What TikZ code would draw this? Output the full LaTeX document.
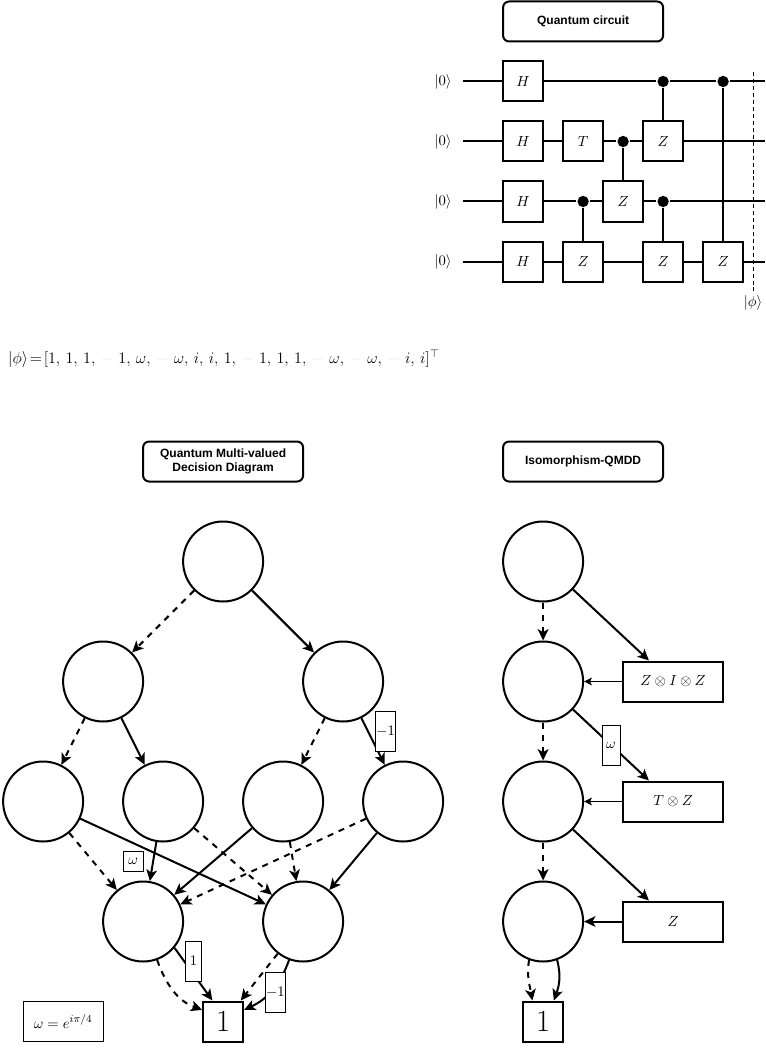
\documentclass[tikz,border=0pt]{standalone}
\usepackage{amsmath,amssymb}
\usepackage{fontspec}
\usepackage{xcolor}
\usepackage{tikz}
\usetikzlibrary{automata,arrows.meta,calc}
\newfontfamily\titlefont{Liberation Sans}
\newcommand{\mn}{\textcolor{black!10}{-}\mskip6mu}
\newcommand{\sep}{,\mskip3mu}

\begin{document}
\begin{tikzpicture}[x=0.75pt,y=-0.75pt,>={Stealth[length=8.5pt,width=8pt,inset=2.2pt]},
			node distance=90pt,line width=1.5pt,font=\fontsize{10.95}{13}\selectfont]
			\tikzstyle{every state}=[fill=white,draw=black,line width=1.5pt,text=black,minimum size=60pt,inner sep=0pt]
			\tikzstyle{titlebox}=[draw,rounded corners=4.5pt,fill=white,minimum width=120pt,minimum height=30pt,align=center,inner sep=0pt,font=\titlefont\bfseries\fontsize{9}{10.5}\selectfont]
			\tikzstyle{gate}=[draw,fill=white,minimum size=30pt,inner sep=0pt]
			\tikzstyle{ctrl}=[circle,fill=black,minimum size=8.5pt,inner sep=0pt]
			\tikzstyle{opbox}=[draw,fill=white,minimum width=75pt,minimum height=30pt,inner sep=0pt]
			\tikzstyle{leaf}=[draw,fill=white,minimum size=30pt,inner sep=0pt,font=\fontsize{23}{23}\selectfont]
			\tikzstyle{lbl}=[draw,fill=white,line width=0.75pt,inner sep=0pt]
			\tikzstyle{dash0}=[dash pattern=on 4.5pt off 4.5pt]
			\tikzstyle{thinedge}=[line width=0.75pt,-{Stealth[length=6pt,width=6pt,inset=1.6pt]}]
			
			\useasboundingbox (-0.1,-0.5) rectangle (764.9,1058.5);
			
			% circuit
			\node[titlebox] (TC) at (583,21) {Quantum circuit};
			\node[gate] (H1) at (523,81) {$H$};
			\node[gate] (H2) [below of = H1, node distance=45pt] {$H$};
			\node[gate] (H3) [below of = H2, node distance=45pt] {$H$};
			\node[gate] (H4) [below of = H3, node distance=45pt] {$H$};
			\node[gate] (T1) [right of = H2, node distance=45pt] {$T$};
			\node[gate] (Z1) [right of = H4, node distance=45pt] {$Z$};
			\node[gate] (Z2) [right of = H3, node distance=75pt] {$Z$};
			\node[gate] (Z3) [right of = H2, node distance=105pt] {$Z$};
			\node[gate] (Z4) [right of = H4, node distance=105pt] {$Z$};
			\node[gate] (Z5) [right of = H4, node distance=150pt] {$Z$};
			\node[ctrl] (C1) at (663,81) {};
			\node[ctrl] (C2) at (723,81) {};
			\node[ctrl] (C3) at (623,141) {};
			\node[ctrl] (C4) at (583,201) {};
			\node[ctrl] (C5) at (663,201) {};
			\foreach \i/\y in {1/81,2/141,3/201,4/261}{
				\node (K\i) at (443,\y) {$|0\rangle$};
				\coordinate (W\i) at (463,\y);
				\coordinate (E\i) at (765,\y);
			}
			\coordinate (P0) at (753,72);
			\node[inner sep=0pt] (PH) at (753,302) {$|\phi\rangle$};
			
			\draw (W1) -- (H1) -- (C1) -- (C2) -- (E1);
			\draw (W2) -- (H2) -- (T1) -- (C3) -- (Z3) -- (E2);
			\draw (W3) -- (H3) -- (C4) -- (Z2) -- (C5) -- (E3);
			\draw (W4) -- (H4) -- (Z1) -- (Z4) -- (Z5) -- (E4);
			\draw (C1) -- (Z3);
			\draw (C2) -- (Z5);
			\draw (C3) -- (Z2);
			\draw (C4) -- (Z1);
			\draw (C5) -- (Z4);
			\draw[line width=0.75pt,dash pattern=on 3pt off 2.2pt] (P0) -- (PH);
			
			\node[inner sep=0pt,anchor=west,font=\fontsize{12}{14}\selectfont] (VEC) at (7,358) {$|\phi\rangle\!=\![1\sep 1\sep 1\sep \mn 1\sep \omega\sep \mn\omega\sep i\sep i\sep 1\sep \mn 1\sep 1\sep 1\sep \mn\omega\sep \mn\omega\sep \mn i\sep i]^{\top}$};
			
			% qmdd
			\node[titlebox] (TQ) at (223,461) {Quantum Multi-valued\\Decision Diagram};
			\node[state] (S1) at (223,561) {};
			\node[state] (S2) [below of = S1, xshift=-90pt] {};
			\node[state] (S3) [below of = S1, xshift=90pt] {};
			\node[state] (S4) [below of = S2, xshift=-45pt] {};
			\node[state] (S5) [below of = S2, xshift=45pt] {};
			\node[state] (S6) [below of = S3, xshift=-45pt] {};
			\node[state] (S7) [below of = S3, xshift=45pt] {};
			\node[state] (S8) [below of = S5, xshift=-15pt] {};
			\node[state] (S9) [below of = S6, xshift=15pt] {};
			\node[leaf] (L1) at (223,1021) {1};
			\node[draw,line width=0.75pt,minimum width=60pt,minimum height=30pt,inner sep=0pt] (OM) at (63,1021) {$\omega=e^{i\pi/4}$};
			
			\path[->]
			(S1) edge[dash0] (S2)
			(S1) edge (S3)
			(S2) edge[dash0] (S4)
			(S2) edge (S5)
			(S3) edge[dash0] (S6)
			(S3) edge node[lbl,pos=0.42,xshift=10.75pt,yshift=4.5pt,minimum width=15pt,minimum height=30pt] (LA) {$-1$} (S7)
			(S4) edge[dash0] (S8)
			(S4) edge (S9)
			(S5) edge node[lbl,pos=0.5,xshift=-15pt,yshift=0pt,minimum width=15pt,minimum height=15pt] (LB) {$\omega$} (S8)
			(S5) edge[dash0] (S9)
			(S6) edge (S8)
			(S6) edge[dash0] (S9)
			(S7) edge[dash0] (S8)
			(S7) edge (S9)
			(S8.-70) edge[dash0,out=-70,in=160] (L1.151)
			(S8.-40) edge node[lbl,pos=0.5,yshift=9.75pt,minimum width=12pt,minimum height=30pt] (LC) {$1$} (L1.117)
			(S9) edge[dash0] (L1.50)
			(S9.-110) edge[out=-110,in=25] node[lbl,pos=0.42,yshift=-4.5pt,minimum width=15pt,minimum height=30pt] (LD) {$-1$} (L1.29);
			
			% isomorphism
			\node[titlebox] (TI) at (583,461) {Isomorphism-QMDD};
			\node[state] (R1) at (543,561) {};
			\node[state] (R2) [below of = R1] {};
			\node[state] (R3) [below of = R2] {};
			\node[state] (R4) [below of = R3] {};
			\node[leaf] (L2) at (543,1021) {1};
			\node[opbox] (B1) [right of = R2, node distance=97.5pt] {$Z\otimes I\otimes Z$};
			\node[opbox] (B2) [right of = R3, node distance=97.5pt] {$T\otimes Z$};
			\node[opbox] (B3) [right of = R4, node distance=97.5pt] {$Z$};
			
			\path[->]
			(R1) edge[dash0] (R2)
			(R2) edge[dash0] (R3)
			(R3) edge[dash0] (R4)
			(R1) edge (B1.139)
			(R2) edge node[lbl,pos=0.5,minimum width=13.5pt,minimum height=30pt] (LE) {$\omega$} (B2.139)
			(R3) edge (B3.139)
			(B1) edge[thinedge] (R2)
			(B2) edge[thinedge] (R3)
			(B3) edge (R4)
			(R4.-110) edge[dash0,out=-100,in=100] (L2.117)
			(R4.-70) edge[out=-75,in=70] (L2.63);
			\end{tikzpicture}
\end{document}
